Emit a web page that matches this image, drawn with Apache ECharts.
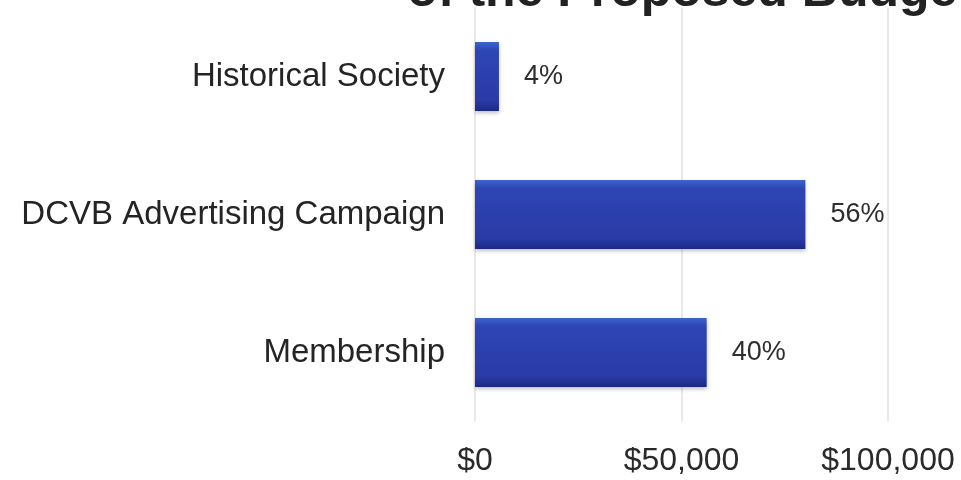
<!DOCTYPE html>
<html>
<head>
<meta charset="utf-8">
<script src="https://cdn.jsdelivr.net/npm/echarts@6/dist/echarts.min.js"></script>
<style>
  html, body { margin: 0; padding: 0; background: #ffffff; }
  #chart { width: 961px; height: 480px; }
</style>
</head>
<body>
<div id="chart"></div>
<script>
// Budget lines, top to bottom
const categories = ['Historical Society', 'DCVB Advertising Campaign', 'Membership'];
// Dollar amounts for each line
const amounts = [5800, 80000, 56100];
// Value axis ticks
const axisMin = 0;
const axisMax = 100000;
const axisStep = 50000;

const total = amounts.reduce((a, b) => a + b, 0);

const chart = echarts.init(document.getElementById('chart'), null, { renderer: 'canvas' });

const barFill = new echarts.graphic.LinearGradient(0, 0, 0, 1, [
  { offset: 0, color: '#3d63cf' },
  { offset: 0.12, color: '#2d46b4' },
  { offset: 0.85, color: '#2a3aa6' },
  { offset: 1, color: '#1d2885' }
]);

chart.setOption({
  backgroundColor: '#ffffff',
  animation: false,
  graphic: [{
    type: 'text',
    x: 974,
    y: -8,
    style: {
      text: 'of the Proposed Budget',
      font: 'bold 50px "Liberation Sans", Arial, sans-serif',
      fill: '#222222',
      textAlign: 'right',
      textVerticalAlign: 'middle'
    }
  }],
  grid: { left: 475, right: 73, top: 7.5, bottom: 58.5, containLabel: false },
  xAxis: {
    type: 'value',
    min: axisMin,
    max: axisMax,
    interval: axisStep,
    axisLine: { show: false },
    axisTick: { show: false },
    splitLine: { show: true, lineStyle: { color: '#e9e9e9', width: 2 } },
    axisLabel: {
      margin: 24,
      fontFamily: '"Liberation Sans", Arial, sans-serif',
      fontSize: 32,
      color: '#2a2a2a',
      formatter: v => '$' + v.toLocaleString('en-US')
    }
  },
  yAxis: {
    type: 'category',
    data: categories,
    inverse: true,
    axisLine: { show: false },
    axisTick: { show: false },
    splitLine: { show: false },
    axisLabel: {
      margin: 30,
      padding: [4, 0, 0, 0],
      fontFamily: '"Liberation Sans", Arial, sans-serif',
      fontSize: 33,
      color: '#242424'
    }
  },
  series: [{
    type: 'bar',
    data: amounts,
    barWidth: 69,
    itemStyle: {
      color: barFill,
      shadowColor: 'rgba(0,0,0,0.25)',
      shadowBlur: 4,
      shadowOffsetY: 2
    },
    label: {
      show: true,
      position: 'right',
      distance: 25,
      fontFamily: '"Liberation Sans", Arial, sans-serif',
      fontSize: 27,
      color: '#2e2e2e',
      formatter: p => Math.round(p.value / total * 100) + '%'
    }
  }]
});
</script>
</body>
</html>
